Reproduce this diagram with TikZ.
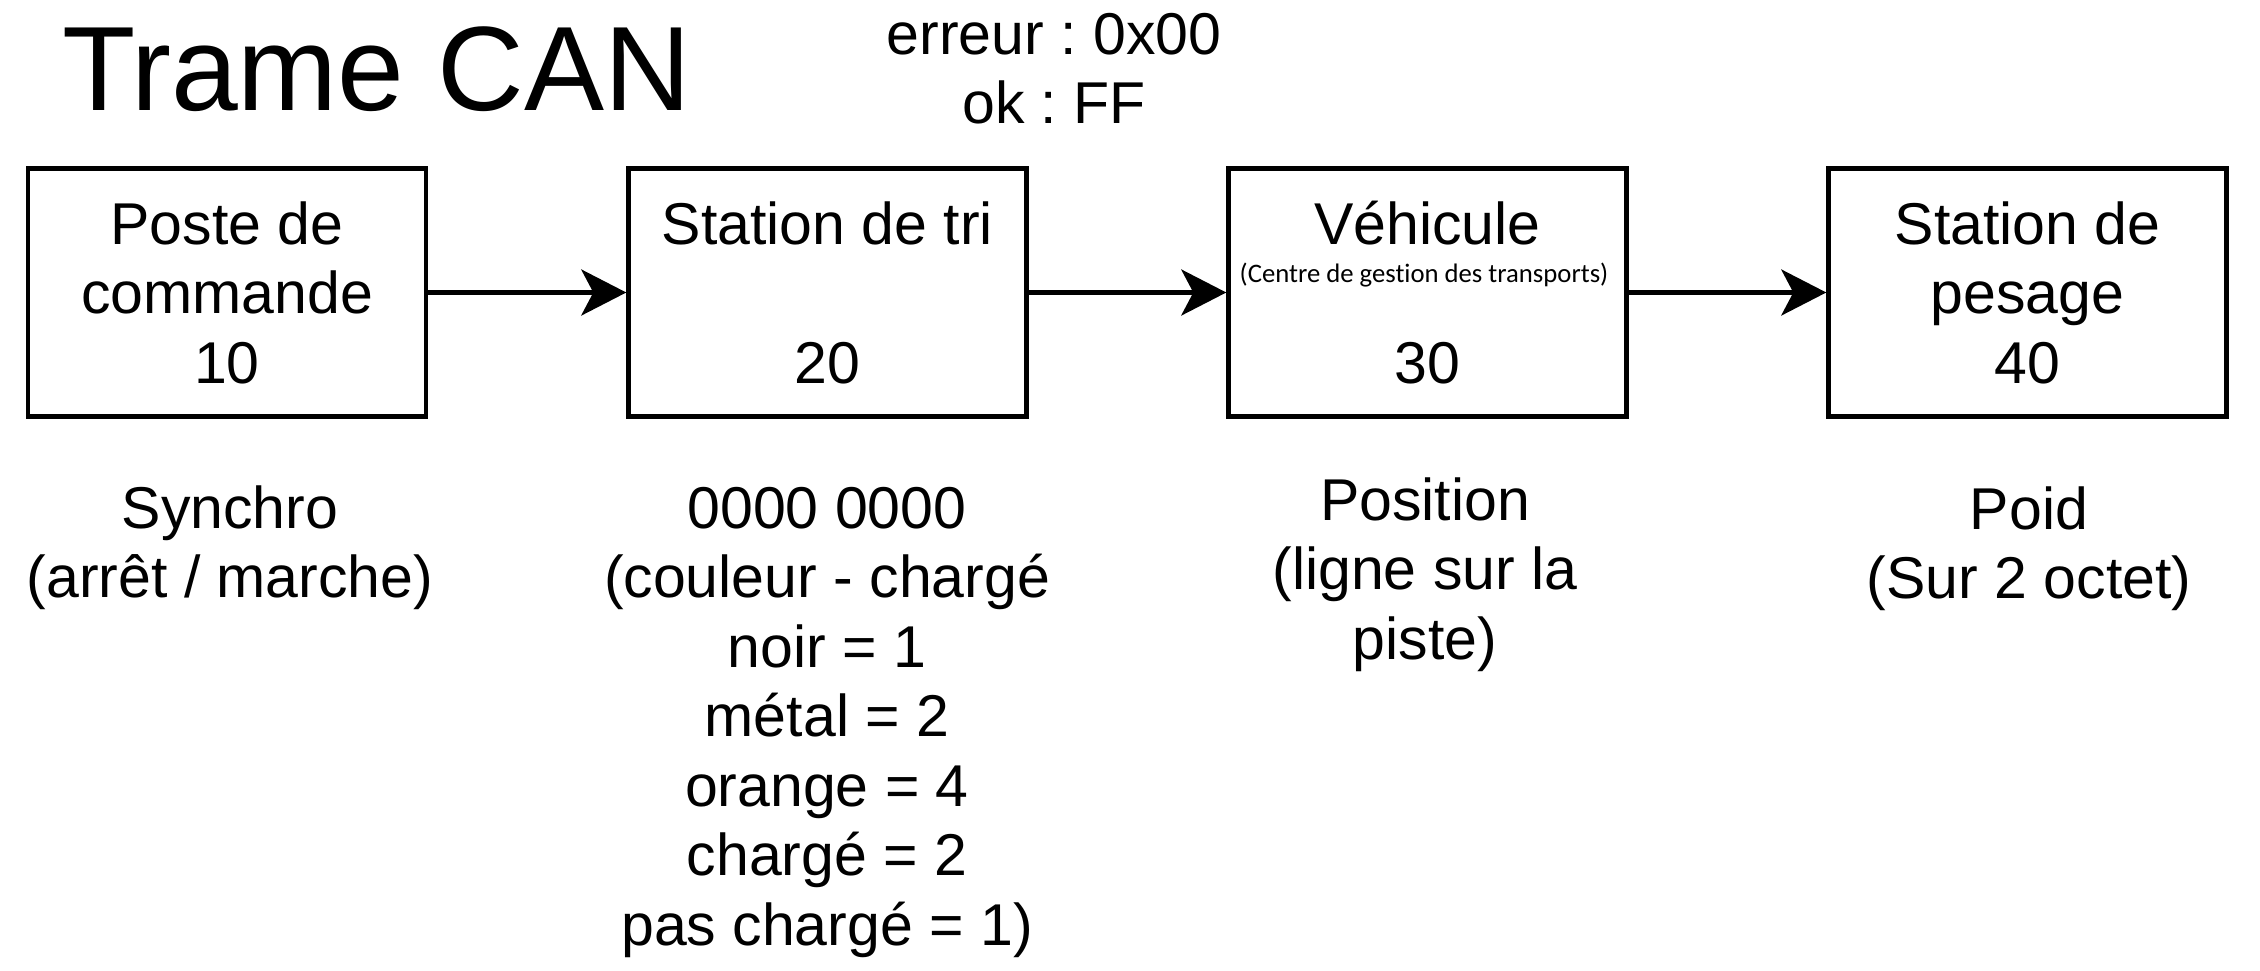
\documentclass[tikz,border=0pt]{standalone}
\usepackage{fontspec}
\setmainfont{Liberation Sans}
\newfontfamily\carlitofont[Ligatures={NoCommon}]{Carlito}
\usetikzlibrary{arrows.meta}
\frenchspacing
\tikzset{
  box/.style={draw=black, line width=2.2pt, minimum width=199pt, minimum height=124pt, inner sep=0pt},
  lbl/.style={inner sep=0pt, align=center, anchor=base, font=\fontsize{29.5}{34.75}\selectfont},
  arr/.style={line width=2.2pt, -{Stealth[length=22.5pt, width=23pt, inset=6pt]}},
}
\begin{document}
\begin{tikzpicture}[x=0.5pt, y=-0.5pt]
\useasboundingbox[fill=white] (0,0) rectangle (2260,970);
% title
\node[inner sep=0pt, anchor=base west, font=\fontsize{60}{72}\selectfont] (title) at (62,110) {Trame CAN};
% multi-line nodes are placed by the baseline of their last line
\node[lbl] (err) at (1054,123.5) {erreur : 0x00\\ok : FF};
% boxes
\node[box] (b1) at (227,292.5) {};
\node[box] (b2) at (827.5,292.5) {};
\node[box] (b3) at (1427.5,292.5) {};
\node[box] (b4) at (2027.5,292.5) {};
% box texts
\node[lbl] (t1) at (227,383) {Poste de\\commande\\10};
\node[lbl] (t2) at (827.5,244) {Station de tri};
\node[lbl] (n2) at (827.5,383) {20};
\node[lbl] (t3) at (1427.5,244) {Véhicule};
\node[inner sep=0pt, anchor=base, font=\carlitofont\fontsize{13.35}{16}\selectfont] (s3) at (1424,282) {(Centre de gestion des transports)};
\node[lbl] (n3) at (1427.5,383) {30};
\node[lbl] (t4) at (2027.5,383) {Station de\\pesage\\40};
% arrows
\draw[arr] (b1.east) -- (b2.west);
\draw[arr] (b2.east) -- (b3.west);
\draw[arr] (b3.east) -- (b4.west);
% descriptions
\node[lbl] (d1) at (230,597.5) {Synchro\\(arrêt / marche)};
\node[lbl] (d2) at (827,945) {0000 0000\\(couleur - chargé\\noir = 1\\métal = 2\\orange = 4\\chargé = 2\\pas chargé = 1)};
\node[lbl] (d3) at (1425,659) {Position\\(ligne sur la\\piste)};
\node[lbl] (d4) at (2029,598.5) {Poid\\(Sur 2 octet)};
\end{tikzpicture}
\end{document}
